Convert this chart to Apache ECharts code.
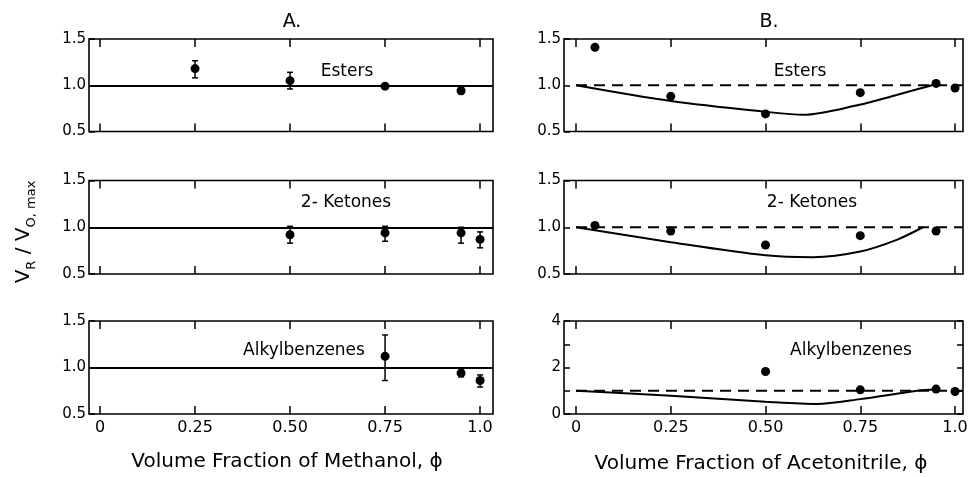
<!DOCTYPE html>
<html>
<head>
<meta charset="utf-8">
<script src="https://cdn.jsdelivr.net/npm/echarts@6.0.0/dist/echarts.min.js"></script>
<style>html,body{margin:0;padding:0;background:#fff;}#c{width:973px;height:477px;}</style>
</head>
<body>
<div id="c"></div>
<script>
// ---- tick labels ----
const xTicks = [0, 0.25, 0.5, 0.75, 1.0];
const xTickLabels = ['0', '0.25', '0.50', '0.75', '1.0'];
const yTicksSmall = [0.5, 1.0, 1.5];
const yTickLabelsSmall = ['0.5', '1.0', '1.5'];
const yTicksBig = [0, 1, 2, 3, 4];
const yTickLabelsBig = ['0', '', '2', '', '4'];

// ---- panel labels ----
const panelTitles = ['A.', 'B.'];
const groupNames = ['Esters', '2- Ketones', 'Alkylbenzenes'];
const xTitles = ['Volume Fraction of Methanol, \u03d5', 'Volume Fraction of Acetonitrile, \u03d5'];

// ---- A: methanol (points with error bars) ----
const aEstersX = [0.25, 0.50, 0.75, 0.95];
const aEstersY = [1.18, 1.05, 0.99, 0.94];
const aEstersLo = [1.08, 0.96, 0.98, 0.91];
const aEstersHi = [1.265, 1.14, 1.00, 0.97];

const aKetonesX = [0.50, 0.75, 0.95, 1.00];
const aKetonesY = [0.92, 0.94, 0.94, 0.87];
const aKetonesLo = [0.83, 0.85, 0.83, 0.78];
const aKetonesHi = [1.01, 1.01, 1.00, 0.95];

const aAlkylX = [0.75, 0.95, 1.00];
const aAlkylY = [1.12, 0.94, 0.86];
const aAlkylLo = [0.86, 0.90, 0.79];
const aAlkylHi = [1.35, 0.97, 0.92];

// ---- B: acetonitrile (points + predicted curve) ----
const bEstersX = [0.05, 0.25, 0.50, 0.75, 0.95, 1.00];
const bEstersY = [1.41, 0.88, 0.69, 0.92, 1.02, 0.97];
const bEstersCurveX = [0, 0.25, 0.50, 0.60, 0.745, 0.846, 0.93, 0.95];
const bEstersCurveY = [1.0, 0.83, 0.713, 0.68, 0.786, 0.895, 0.99, 1.01];

const bKetonesX = [0.05, 0.25, 0.50, 0.75, 0.95];
const bKetonesY = [1.02, 0.96, 0.81, 0.91, 0.96];
const bKetonesCurveX = [0, 0.25, 0.50, 0.626, 0.75, 0.846, 0.915];
const bKetonesCurveY = [1.0, 0.84, 0.70, 0.68, 0.74, 0.865, 1.0];

const bAlkylX = [0.50, 0.75, 0.95, 1.00];
const bAlkylY = [1.83, 1.04, 1.07, 0.97];
const bAlkylCurveX = [0, 0.25, 0.50, 0.635, 0.75, 0.90, 0.95];
const bAlkylCurveY = [1.0, 0.78, 0.53, 0.43, 0.64, 1.0, 1.05];

const refX = [0, 1.021];
const refY = [1, 1];

// ---- layout ----
const colLeft = [89, 564];
const colWidth = [404, 399];
const rowTop = [39, 180.5, 321];
const rowHeight = [92.5, 93.5, 93];
const colXMin = [-0.029, -0.0317];
const colXMax = [1.034, 1.021];

const FONT = 'DejaVu Sans';
const zip = (xs, ys) => xs.map((x, i) => [x, ys[i]]);
const zip3 = (xs, a, b) => xs.map((x, i) => [x, a[i], b[i]]);
const lookup = (vals, labs) => v => {
  const i = vals.findIndex(t => Math.abs(t - v) < 1e-6);
  return i >= 0 ? labs[i] : '';
};

const grids = [], xAxes = [], yAxes = [], series = [];
const tickStyle = { color: '#000', width: 1.5 };
for (let r = 0; r < 3; r++) {
  for (let c = 0; c < 2; c++) {
    const g = grids.length;
    grids.push({ left: colLeft[c], top: rowTop[r], width: colWidth[c], height: rowHeight[r],
      show: true, borderColor: '#000', borderWidth: 1.6, backgroundColor: 'transparent' });
    xAxes.push({ type: 'value', gridIndex: g, position: 'bottom', min: colXMin[c], max: colXMax[c],
      axisLine: { show: false, onZero: false }, splitLine: { show: false },
      axisTick: { show: true, inside: true, length: 8, customValues: xTicks, lineStyle: tickStyle },
      axisLabel: { show: r === 2, customValues: xTicks, formatter: lookup(xTicks, xTickLabels),
        fontFamily: FONT, fontSize: 16, color: '#000', margin: 6 } });
    xAxes.push({ type: 'value', gridIndex: g, position: 'top', min: colXMin[c], max: colXMax[c],
      axisLine: { show: false, onZero: false }, splitLine: { show: false },
      axisTick: { show: true, inside: true, length: 8, customValues: xTicks, lineStyle: tickStyle },
      axisLabel: { show: false } });
    const big = (r === 2 && c === 1);
    yAxes.push({ type: 'value', gridIndex: g, position: 'left',
      min: big ? 0 : 0.5, max: big ? 4 : 1.5, interval: big ? 1 : 0.5,
      axisLine: { show: false, onZero: false }, splitLine: { show: false },
      axisTick: { show: true, inside: true, length: 6, lineStyle: tickStyle },
      axisLabel: { formatter: big ? lookup(yTicksBig, yTickLabelsBig) : lookup(yTicksSmall, yTickLabelsSmall),
        fontFamily: FONT, fontSize: 15, color: '#000', margin: 3 } });
  }
}
// right-hand ticks for the B alkylbenzene panel
yAxes.push({ type: 'value', gridIndex: 5, position: 'right', min: 0, max: 4, interval: 1,
  axisLine: { show: false, onZero: false }, splitLine: { show: false },
  axisTick: { show: true, inside: true, length: 6, lineStyle: tickStyle },
  axisLabel: { show: false } });

function errRender(params, api) {
  const x = api.value(0), lo = api.value(1), hi = api.value(2);
  const p1 = api.coord([x, lo]), p2 = api.coord([x, hi]);
  const st = { stroke: '#000', lineWidth: 1.5 };
  return { type: 'group', children: [
    { type: 'line', shape: { x1: p1[0], y1: p1[1], x2: p2[0], y2: p2[1] }, style: st },
    { type: 'line', shape: { x1: p1[0] - 3, y1: p1[1], x2: p1[0] + 3, y2: p1[1] }, style: st },
    { type: 'line', shape: { x1: p2[0] - 3, y1: p2[1], x2: p2[0] + 3, y2: p2[1] }, style: st }
  ] };
}

const aSets = [
  [aEstersX, aEstersY, aEstersLo, aEstersHi],
  [aKetonesX, aKetonesY, aKetonesLo, aKetonesHi],
  [aAlkylX, aAlkylY, aAlkylLo, aAlkylHi]
];
const bSets = [
  [bEstersX, bEstersY, bEstersCurveX, bEstersCurveY],
  [bKetonesX, bKetonesY, bKetonesCurveX, bKetonesCurveY],
  [bAlkylX, bAlkylY, bAlkylCurveX, bAlkylCurveY]
];
const dot = { color: '#000', opacity: 1 };

for (let r = 0; r < 3; r++) {
  const gA = r * 2, gB = r * 2 + 1;
  const [ax, ay, alo, ahi] = aSets[r];
  series.push({ type: 'line', xAxisIndex: gA * 2, yAxisIndex: gA, data: [], silent: true,
    markLine: { silent: true, symbol: 'none', label: { show: false },
      lineStyle: { color: '#000', width: 2, type: 'solid', opacity: 1 }, data: [{ yAxis: 1 }] } });
  series.push({ type: 'custom', xAxisIndex: gA * 2, yAxisIndex: gA, renderItem: errRender,
    encode: { x: 0, y: [1, 2] }, data: zip3(ax, alo, ahi), silent: true, z: 3 });
  series.push({ type: 'scatter', xAxisIndex: gA * 2, yAxisIndex: gA, data: zip(ax, ay),
    symbolSize: 9, itemStyle: dot, silent: true, z: 4 });

  const [bx, by, cx, cy] = bSets[r];
  series.push({ type: 'line', xAxisIndex: gB * 2, yAxisIndex: gB, data: zip(refX, refY),
    showSymbol: false, lineStyle: { color: '#000', width: 2, type: [11, 7] }, silent: true });
  series.push({ type: 'line', xAxisIndex: gB * 2, yAxisIndex: gB, data: zip(cx, cy),
    smooth: 0.3, showSymbol: false, lineStyle: { color: '#000', width: 2 }, silent: true });
  series.push({ type: 'scatter', xAxisIndex: gB * 2, yAxisIndex: gB, data: zip(bx, by),
    symbolSize: 9, itemStyle: dot, silent: true, z: 4 });
}

const labelPos = [[[347, 72], [800, 72]], [[346, 203], [812, 203]], [[304, 351], [851, 351]]];
const graphics = [];
for (let r = 0; r < 3; r++) for (let c = 0; c < 2; c++) {
  graphics.push({ type: 'text', x: labelPos[r][c][0], y: labelPos[r][c][1],
    style: { text: groupNames[r], fontFamily: FONT, fontSize: 17, fill: '#000', align: 'center', verticalAlign: 'middle' } });
}
graphics.push({ type: 'text', x: 292, y: 22, style: { text: panelTitles[0], fontFamily: FONT, fontSize: 19, fill: '#000', align: 'center', verticalAlign: 'middle' } });
graphics.push({ type: 'text', x: 769, y: 22, style: { text: panelTitles[1], fontFamily: FONT, fontSize: 19, fill: '#000', align: 'center', verticalAlign: 'middle' } });
graphics.push({ type: 'text', x: 287, y: 462, style: { text: xTitles[0], fontFamily: FONT, fontSize: 20, fill: '#000', align: 'center', verticalAlign: 'middle' } });
graphics.push({ type: 'text', x: 761, y: 464, style: { text: xTitles[1], fontFamily: FONT, fontSize: 20, fill: '#000', align: 'center', verticalAlign: 'middle' } });
graphics.push({ type: 'text', x: 24, y: 232, rotation: Math.PI / 2,
  style: { text: '{v|V}{s|R}{v| / V}{s|O, max}', align: 'center', verticalAlign: 'middle', fill: '#000',
    rich: {
      v: { fontFamily: FONT, fontSize: 20, fill: '#000', lineHeight: 28, verticalAlign: 'middle' },
      s: { fontFamily: FONT, fontSize: 13, fill: '#000', lineHeight: 28, verticalAlign: 'bottom' }
    } } });

const chart = echarts.init(document.getElementById('c'), null, { renderer: 'canvas' });
chart.setOption({
  animation: false,
  backgroundColor: '#fff',
  grid: grids, xAxis: xAxes, yAxis: yAxes, series: series, graphic: graphics
});
</script>
</body>
</html>
